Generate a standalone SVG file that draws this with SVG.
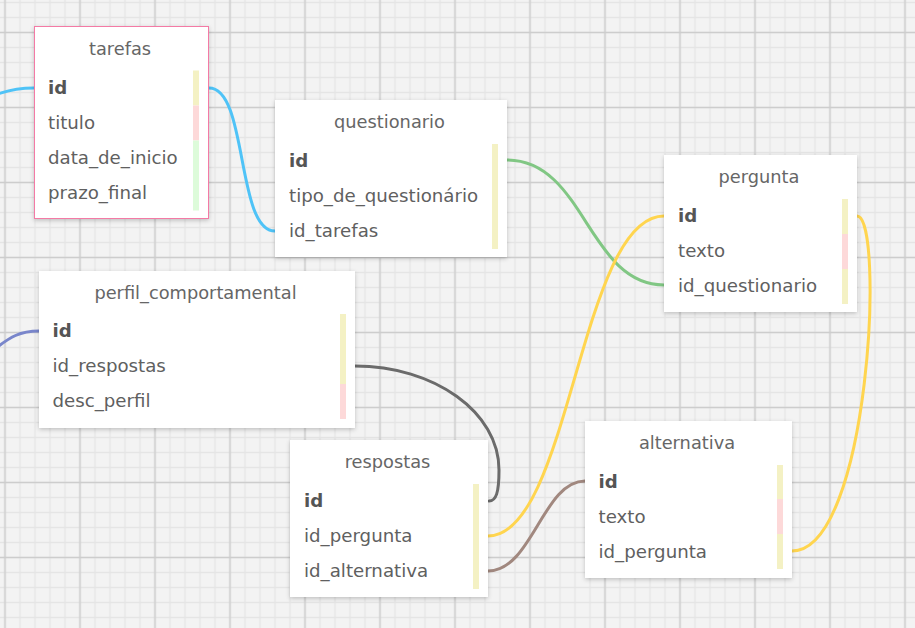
<svg xmlns="http://www.w3.org/2000/svg" width="915" height="628" viewBox="0 0 915 628">
<defs>
<pattern id="minor" width="15" height="15" x="-2.5" y="-5" patternUnits="userSpaceOnUse">
<path d="M7.5 0V15M0 7.5H15" stroke="#e5e5e5" stroke-width="1.5" fill="none"/>
</pattern>
<pattern id="major" width="75" height="75" x="-32.5" y="-5" patternUnits="userSpaceOnUse">
<path d="M37.5 0V75M0 37.5H75" stroke="#cdcdcd" stroke-width="1.5" fill="none"/>
</pattern>
<filter id="sh" x="-10%" y="-10%" width="120%" height="125%">
<feDropShadow dx="0" dy="1.5" stdDeviation="2" flood-color="#000" flood-opacity="0.22"/>
</filter>
</defs>
<style>
.card{fill:#fff;filter:url(#sh)}
.title{font-family:"DejaVu Sans",sans-serif;font-size:17.8px;fill:#666;text-anchor:middle}
.f{font-family:"DejaVu Sans",sans-serif;font-size:18.2px;fill:#606060}
.pk{font-weight:bold;fill:#555}
.y{fill:#f4f1c4}
.p{fill:#fdd9d9}
.g{fill:#ddfbda}
.c{fill:none;stroke-width:3;stroke-linecap:round}
</style>
<rect width="915" height="628" fill="#f3f3f3"/>
<rect width="915" height="628" fill="url(#minor)"/>
<rect width="915" height="628" fill="url(#major)"/>

<g id="connectors">
<path class="c" stroke="#4fc3f7" d="M-5 95 C8 90 18 88 34 88"/>
<path class="c" stroke="#4fc3f7" d="M209 88 C248 88 236 231 275 231"/>
<path class="c" stroke="#81c784" d="M507 160 C585 160 588 285 664 285"/>
<path class="c" stroke="#ffd54f" d="M488 536 C570 536 580 216 664 216"/>
<path class="c" stroke="#ffd54f" d="M857 216 C885 216 870 551 792 551"/>
<path class="c" stroke="#7986cb" d="M-5 349 C10 337 20 331 39 331"/>
<path class="c" stroke="#6b6b6b" d="M355 366 C434 366 499 412 499 470 C499 493 496 501 489 501"/>
<path class="c" stroke="#a1887f" d="M488 571 C532 571 543 481 585 481"/>
</g>

<g id="tarefas">
<rect class="card" x="34.5" y="26.5" width="174" height="192" stroke="#f47aa5" stroke-width="1"/>
<text class="title" x="120" y="54.5">tarefas</text>
<rect class="y" x="193" y="70.5" width="6" height="35"/>
<rect class="p" x="193" y="105.5" width="6" height="35"/>
<rect class="g" x="193" y="140.5" width="6" height="70"/>
<text class="f pk" x="48" y="94">id</text>
<text class="f" x="48" y="129">titulo</text>
<text class="f" x="48" y="164">data_de_inicio</text>
<text class="f" x="48" y="199">prazo_final</text>
</g>

<g id="questionario">
<rect class="card" x="275" y="100" width="232" height="157"/>
<text class="title" x="389.5" y="127.5">questionario</text>
<rect class="y" x="492" y="144" width="6" height="105"/>
<text class="f pk" x="289" y="167">id</text>
<text class="f" x="289" y="202">tipo_de_questionário</text>
<text class="f" x="289" y="237">id_tarefas</text>
</g>

<g id="pergunta">
<rect class="card" x="664" y="155" width="193" height="157"/>
<text class="title" x="759" y="182.5">pergunta</text>
<rect class="y" x="842" y="199" width="6" height="35"/>
<rect class="p" x="842" y="234" width="6" height="35"/>
<rect class="y" x="842" y="269" width="6" height="35"/>
<text class="f pk" x="678" y="222">id</text>
<text class="f" x="678" y="257">texto</text>
<text class="f" x="678" y="292">id_questionario</text>
</g>

<g id="perfil_comportamental">
<rect class="card" x="39" y="271" width="316" height="157"/>
<text class="title" x="195.5" y="298.5">perfil_comportamental</text>
<rect class="y" x="340" y="314" width="6" height="70"/>
<rect class="p" x="340" y="384" width="6" height="35"/>
<text class="f pk" x="52.5" y="337">id</text>
<text class="f" x="52.5" y="372">id_respostas</text>
<text class="f" x="52.5" y="407">desc_perfil</text>
</g>

<g id="respostas">
<rect class="card" x="290" y="440" width="198" height="157"/>
<text class="title" x="387.5" y="467.5">respostas</text>
<rect class="y" x="473" y="484" width="6" height="105"/>
<text class="f pk" x="304" y="507">id</text>
<text class="f" x="304" y="542">id_pergunta</text>
<text class="f" x="304" y="577">id_alternativa</text>
</g>

<g id="alternativa">
<rect class="card" x="585" y="421" width="207" height="157"/>
<text class="title" x="687" y="448.5">alternativa</text>
<rect class="y" x="777" y="465" width="6" height="34"/>
<rect class="p" x="777" y="499" width="6" height="35"/>
<rect class="y" x="777" y="534" width="6" height="35"/>
<text class="f pk" x="598.5" y="488">id</text>
<text class="f" x="598.5" y="523">texto</text>
<text class="f" x="598.5" y="558">id_pergunta</text>
</g>
</svg>
